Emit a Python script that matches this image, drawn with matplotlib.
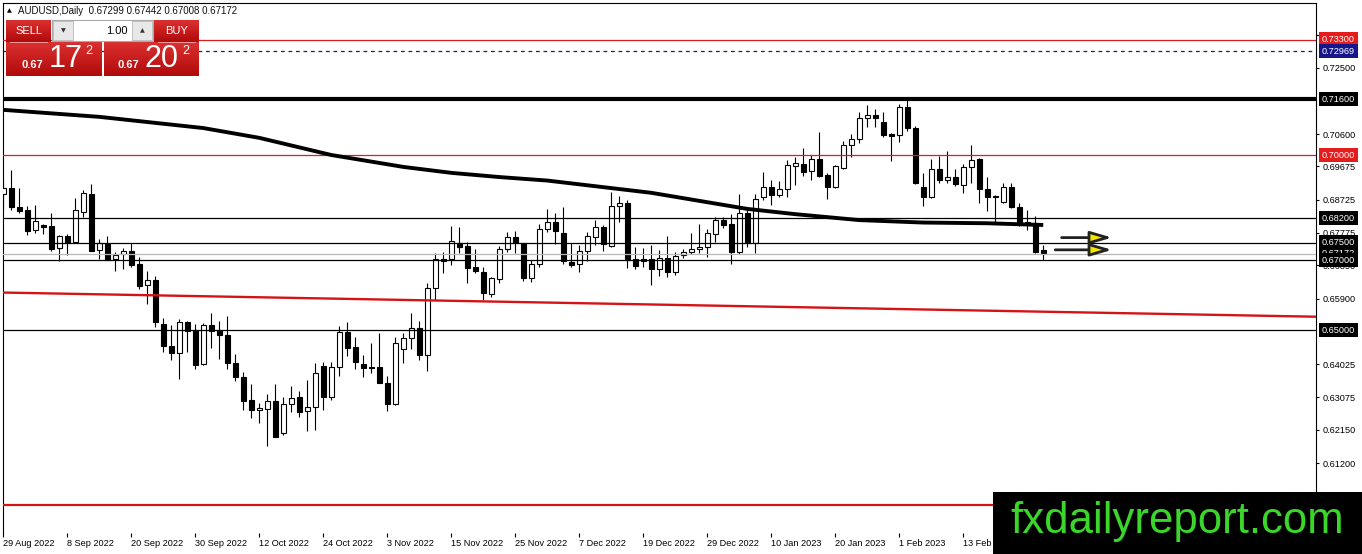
import numpy as np
import pandas as pd
import matplotlib
matplotlib.use('Agg')
import matplotlib.pyplot as plt
from matplotlib.patches import Rectangle
from matplotlib.colors import LinearSegmentedColormap

plt.rcParams['font.family'] = ['Liberation Sans', 'DejaVu Sans']

# daily AUDUSD candles (first bar = 29 Aug 2022)
opens = [0.6889, 0.6905, 0.6851, 0.6843, 0.6786, 0.6800, 0.6797, 0.6734, 0.6769, 0.6751,
         0.6836, 0.6889, 0.6728, 0.6746, 0.6702, 0.6716, 0.6726, 0.6689, 0.6628, 0.6643,
         0.6518, 0.6455, 0.6434, 0.6523, 0.6500, 0.6402, 0.6515, 0.6500, 0.6486, 0.6407,
         0.6366, 0.6300, 0.6271, 0.6274, 0.6297, 0.6207, 0.6289, 0.6308, 0.6268, 0.6279,
         0.6397, 0.6310, 0.6394, 0.6495, 0.6452, 0.6403, 0.6394, 0.6394, 0.6350, 0.6288,
         0.6445, 0.6476, 0.6505, 0.6428, 0.6619, 0.6703, 0.6702, 0.6750, 0.6740, 0.6680,
         0.6666, 0.6603, 0.6645, 0.6731, 0.6765, 0.6748, 0.6650, 0.6688, 0.6788, 0.6810,
         0.6776, 0.6695, 0.6689, 0.6725, 0.6767, 0.6793, 0.6741, 0.6853, 0.6862, 0.6702,
         0.6702, 0.6702, 0.6674, 0.6705, 0.6667, 0.6713, 0.6724, 0.6731, 0.6736, 0.6774,
         0.6814, 0.6802, 0.6724, 0.6835, 0.6750, 0.6879, 0.6910, 0.6886, 0.6902, 0.6970,
         0.6974, 0.6954, 0.6989, 0.6943, 0.6908, 0.6964, 0.7029, 0.7045, 0.7105, 0.7114,
         0.7095, 0.7060, 0.7057, 0.7136, 0.7076, 0.6908, 0.6881, 0.6959, 0.6929, 0.6936,
         0.6915, 0.6965, 0.6988, 0.6903, 0.6882, 0.6867, 0.6908, 0.6851, 0.6808, 0.6807,
         0.67299]
highs = [0.6929, 0.6957, 0.6905, 0.6854, 0.6857, 0.6803, 0.6833, 0.6772, 0.6774, 0.6876,
         0.6900, 0.6917, 0.6759, 0.6770, 0.6724, 0.6734, 0.6748, 0.6708, 0.6670, 0.6655,
         0.6534, 0.6515, 0.6531, 0.6527, 0.6516, 0.6521, 0.6548, 0.6526, 0.6541, 0.6432,
         0.6381, 0.6346, 0.6291, 0.6318, 0.6346, 0.6310, 0.6340, 0.6327, 0.6357, 0.6405,
         0.6410, 0.6410, 0.6512, 0.6522, 0.6479, 0.6429, 0.6462, 0.6491, 0.6370, 0.6481,
         0.6491, 0.6550, 0.6527, 0.6633, 0.6719, 0.6724, 0.6797, 0.6793, 0.6752, 0.6731,
         0.6681, 0.6652, 0.6740, 0.6779, 0.6782, 0.6750, 0.6700, 0.6803, 0.6845, 0.6835,
         0.6851, 0.6748, 0.6743, 0.6781, 0.6814, 0.6800, 0.6895, 0.6883, 0.6872, 0.6738,
         0.6733, 0.6743, 0.6729, 0.6769, 0.6724, 0.6731, 0.6776, 0.6803, 0.6788, 0.6822,
         0.6824, 0.6832, 0.6889, 0.6845, 0.6889, 0.6952, 0.6929, 0.6927, 0.6986, 0.6995,
         0.7019, 0.6999, 0.7067, 0.6948, 0.6972, 0.7041, 0.7060, 0.7122, 0.7143, 0.7131,
         0.7122, 0.7064, 0.7146, 0.7157, 0.7083, 0.6948, 0.6988, 0.6997, 0.7011, 0.6959,
         0.6975, 0.7029, 0.6991, 0.6936, 0.6886, 0.6921, 0.6919, 0.6864, 0.6843, 0.6826,
         0.67442]
lows = [0.6843, 0.6843, 0.6835, 0.6771, 0.6778, 0.6773, 0.6727, 0.6697, 0.6713, 0.6750,
        0.6824, 0.6725, 0.6704, 0.6699, 0.6670, 0.6674, 0.6679, 0.6618, 0.6573, 0.6510,
        0.6436, 0.6413, 0.6361, 0.6436, 0.6389, 0.6399, 0.6450, 0.6416, 0.6388, 0.6353,
        0.6272, 0.6248, 0.6234, 0.6169, 0.6194, 0.6200, 0.6267, 0.6251, 0.6211, 0.6214,
        0.6272, 0.6300, 0.6370, 0.6426, 0.6388, 0.6367, 0.6376, 0.6348, 0.6270, 0.6285,
        0.6405, 0.6445, 0.6413, 0.6384, 0.6586, 0.6662, 0.6686, 0.6719, 0.6633, 0.6662,
        0.6586, 0.6595, 0.6633, 0.6724, 0.6721, 0.6641, 0.6638, 0.6681, 0.6781, 0.6746,
        0.6689, 0.6681, 0.6667, 0.6698, 0.6743, 0.6727, 0.6738, 0.6810, 0.6676, 0.6675,
        0.6681, 0.6630, 0.6655, 0.6651, 0.6658, 0.6707, 0.6717, 0.6719, 0.6710, 0.6752,
        0.6791, 0.6689, 0.6717, 0.6736, 0.6721, 0.6872, 0.6857, 0.6879, 0.6879, 0.6914,
        0.6940, 0.6929, 0.6936, 0.6874, 0.6905, 0.6959, 0.6993, 0.7033, 0.7079, 0.7081,
        0.7052, 0.6984, 0.7036, 0.7070, 0.6917, 0.6855, 0.6876, 0.6919, 0.6919, 0.6912,
        0.6891, 0.6921, 0.6864, 0.6841, 0.6810, 0.6862, 0.6848, 0.6796, 0.6786, 0.6719,
        0.67008]
closes = [0.6905, 0.6852, 0.6840, 0.6784, 0.6811, 0.6795, 0.6732, 0.6769, 0.6750, 0.6842,
          0.6891, 0.6727, 0.6748, 0.6700, 0.6713, 0.6725, 0.6687, 0.6626, 0.6642, 0.6524,
          0.6453, 0.6433, 0.6522, 0.6497, 0.6400, 0.6514, 0.6497, 0.6485, 0.6407, 0.6365,
          0.6298, 0.6272, 0.6278, 0.6297, 0.6195, 0.6289, 0.6307, 0.6267, 0.6279, 0.6376,
          0.6310, 0.6394, 0.6495, 0.6450, 0.6410, 0.6392, 0.6392, 0.6350, 0.6288, 0.6462,
          0.6476, 0.6505, 0.6428, 0.6619, 0.6702, 0.6697, 0.6753, 0.6738, 0.6678, 0.6669,
          0.6605, 0.6648, 0.6731, 0.6765, 0.6748, 0.6650, 0.6689, 0.6788, 0.6810, 0.6784,
          0.6697, 0.6686, 0.6725, 0.6769, 0.6793, 0.6745, 0.6853, 0.6862, 0.6700, 0.6683,
          0.6696, 0.6674, 0.6705, 0.6667, 0.6712, 0.6724, 0.6731, 0.6737, 0.6776, 0.6814,
          0.6801, 0.6724, 0.6835, 0.6748, 0.6873, 0.6910, 0.6886, 0.6902, 0.6972, 0.6976,
          0.6952, 0.6989, 0.6941, 0.6910, 0.6969, 0.7029, 0.7045, 0.7105, 0.7114, 0.7105,
          0.7057, 0.7055, 0.7136, 0.7076, 0.6921, 0.6881, 0.6959, 0.6929, 0.6936, 0.6917,
          0.6965, 0.6986, 0.6902, 0.6879, 0.6880, 0.6908, 0.6851, 0.6803, 0.6803, 0.6724,
          0.67172]
dates = pd.bdate_range('2022-08-29', periods=len(opens))

# moving average readings (bar index, price)
ma_bars = [0, 12, 25, 32, 41, 50, 56, 62, 68, 81, 93, 99, 107, 115, 123, 130]
ma_vals = [0.7129, 0.7109, 0.7077, 0.7049, 0.7000, 0.6966, 0.6949, 0.6937, 0.6927,
           0.6892, 0.6846, 0.6831, 0.6814, 0.6807, 0.6805, 0.6800]

# red trendline end points
trend_bars = [0, 164]
trend_vals = [0.6607, 0.6538]

# horizontal levels
red_levels = [0.7330, 0.7000]
black_levels = [0.6820, 0.6750, 0.6700, 0.6500]
ask_level = 0.72969
bid_level = 0.67172
resist_level = 0.7160
low_level = 0.6000

axis_ticks = [0.73425, 0.72500, 0.70600, 0.69675, 0.68725, 0.67775, 0.66850,
              0.65900, 0.64025, 0.63075, 0.62150, 0.61200]

# price tags on the right axis (price, background)
tags = [(0.73300, '#e41c1c'), (0.72969, '#16168c'), (0.71600, 'black'),
        (0.70000, '#e41c1c'), (0.68200, 'black'), (0.67500, 'black'),
        (0.67172, 'black'), (0.67000, 'black'), (0.65000, 'black')]

# yellow arrows: price, tail bar, tip bar
arrow_prices = [0.6764, 0.6729]
arrow_tails = [132.3, 131.5]
arrow_tips = [138.6, 138.6]

header = 'AUDUSD,Daily  0.67299 0.67442 0.67008 0.67172'

W, H = 1362, 554
fig = plt.figure(figsize=(W / 100, H / 100), dpi=100)
fig.patch.set_facecolor('white')
ax = fig.add_axes([3 / W, (H - 533) / H, (1316 - 3) / W, (533 - 3) / H])
ax.set_xlim(-0.04, 164.1)
ax.set_ylim(0.5920, 0.74343)

x = np.arange(len(opens))
o = np.array(opens)
h = np.array(highs)
l = np.array(lows)
c = np.array(closes)
up = c >= o

ax.vlines(x, l, h, color='black', lw=0.8, zorder=3)
ax.bar(x[up], np.maximum(c - o, 0.00004)[up], bottom=o[up], width=0.62,
       facecolor='white', edgecolor='black', lw=0.8, zorder=4)
ax.bar(x[~up], np.maximum(o - c, 0.00004)[~up], bottom=c[~up], width=0.62,
       facecolor='black', edgecolor='black', lw=0.8, zorder=4)

# levels
for p in red_levels:
    ax.axhline(p, color='#d81e1e', lw=0.9, zorder=5)
for p in black_levels:
    ax.axhline(p, color='black', lw=0.9, zorder=5)
ax.axhline(ask_level, color='#202050', lw=0.9, ls=(0, (3, 3)), zorder=5)
ax.axhline(bid_level, color='#b8b8b8', lw=0.9, zorder=5)
ax.axhline(resist_level, color='black', lw=3.0, zorder=5)
ax.axhline(low_level, color='#d41414', lw=1.6, zorder=5)
ax.plot(trend_bars, trend_vals, color='#d41414', lw=1.7, zorder=5)
ax.plot(ma_bars, ma_vals, color='black', lw=2.8, zorder=6, solid_capstyle='butt')

for p, t0, t1 in zip(arrow_prices, arrow_tails, arrow_tips):
    ax.annotate('', xy=(t1, p), xytext=(t0, p),
                arrowprops=dict(arrowstyle='-|>,head_length=1.3,head_width=0.38',
                                lw=2.0, edgecolor='#222222', facecolor='#f2e600',
                                shrinkA=0, shrinkB=0), zorder=7)

# axes look
for side in ['left', 'top', 'right']:
    ax.spines[side].set_linewidth(0.8)
ax.spines['bottom'].set_visible(False)
ax.yaxis.tick_right()
ax.set_yticks(axis_ticks)
ax.set_yticklabels([f'{v:.5f}' for v in axis_ticks])
ax.tick_params(axis='y', labelsize=6.6, length=2.5, width=0.8, pad=2)

# date ticks every 8 bars; the last one sits under the watermark, so leave it out
tick_idx = list(range(0, 121, 8))
ax.set_xticks(tick_idx)
ax.set_xticklabels([f'{dates[i].day} {dates[i].strftime("%b %Y")}' for i in tick_idx])
ax.tick_params(axis='x', labelsize=6.6, length=3, width=0.8, pad=1.5)
for lbl in ax.get_xticklabels():
    lbl.set_ha('left')

for p, bg in tags:
    ax.annotate(f'{p:.5f}', xy=(1, p), xycoords=('axes fraction', 'data'),
                xytext=(4.3, 0), textcoords='offset points', ha='left', va='center',
                fontsize=6.6, color='white', annotation_clip=False,
                bbox=dict(boxstyle='square,pad=0.3', fc=bg, ec='none'))

# overlay in pixel coordinates for panel, header and watermark
ov = fig.add_axes([0, 0, 1, 1], zorder=10)
ov.set_xlim(0, W)
ov.set_ylim(H, 0)
ov.axis('off')
ov.patch.set_alpha(0)

ov.text(7, 11, '▲', fontsize=4.5, va='center', family=['DejaVu Sans'])
ov.text(18, 11, header, fontsize=7, va='center', color='#111111')

red_cmap = LinearSegmentedColormap.from_list('btn', ['#dc3030', '#b00a0a'])
grad = np.linspace(0, 1, 50).reshape(-1, 1)


def red_box(x0, y0, w, hgt):
    ov.imshow(grad, cmap=red_cmap, aspect='auto', extent=(x0, x0 + w, y0 + hgt, y0), zorder=1)


red_box(6, 20, 45, 22)
red_box(154, 20, 45, 22)
red_box(6, 42, 96, 34)
red_box(104, 42, 95, 34)
ov.set_xlim(0, W)
ov.set_ylim(H, 0)
ov.plot([10, 47], [41.5, 41.5], color='white', lw=0.6, alpha=0.6, zorder=2)
ov.plot([158, 195], [41.5, 41.5], color='white', lw=0.6, alpha=0.6, zorder=2)
ov.text(28.5, 31, 'SELL', color='white', fontsize=8, ha='center', va='center', zorder=3)
ov.text(176.5, 31, 'BUY', color='white', fontsize=8, ha='center', va='center', zorder=3)

ov.add_patch(Rectangle((52, 20), 101, 21, fc='white', ec='#a8a8a8', lw=0.8, zorder=2))
ov.add_patch(Rectangle((53, 21), 20, 19, fc='#e8e8e8', ec='#b8b8b8', lw=0.6, zorder=3))
ov.add_patch(Rectangle((132, 21), 20, 19, fc='#e8e8e8', ec='#b8b8b8', lw=0.6, zorder=3))
ov.text(63, 30.5, '▼', fontsize=4.5, ha='center', va='center', color='#333333',
        family=['DejaVu Sans'], zorder=4)
ov.text(142, 30.5, '▲', fontsize=4.5, ha='center', va='center', color='#333333',
        family=['DejaVu Sans'], zorder=4)
ov.text(128, 30.5, '1.00', fontsize=8, ha='right', va='center', color='black', zorder=4)

ov.text(21, 65, '0.67', fontsize=8, weight='bold', color='white', va='center', zorder=3)
ov.text(49, 59, '17', fontsize=22, color='white', va='center', zorder=3)
ov.text(85, 51, '2', fontsize=9, color='white', va='center', zorder=3)
ov.text(118, 65, '0.67', fontsize=8, weight='bold', color='white', va='center', zorder=3)
ov.text(145, 59, '20', fontsize=22, color='white', va='center', zorder=3)
ov.text(182, 51, '2', fontsize=9, color='white', va='center', zorder=3)

# watermark
ov.add_patch(Rectangle((993, 492), W - 993, H - 492, fc='black', ec='none', zorder=5))
ov.text(1010, 533, 'fxdailyreport.com', fontsize=31.5, color='#3ad62a',
        va='baseline', ha='left', zorder=6)

fig.savefig('out.png', dpi=100)
